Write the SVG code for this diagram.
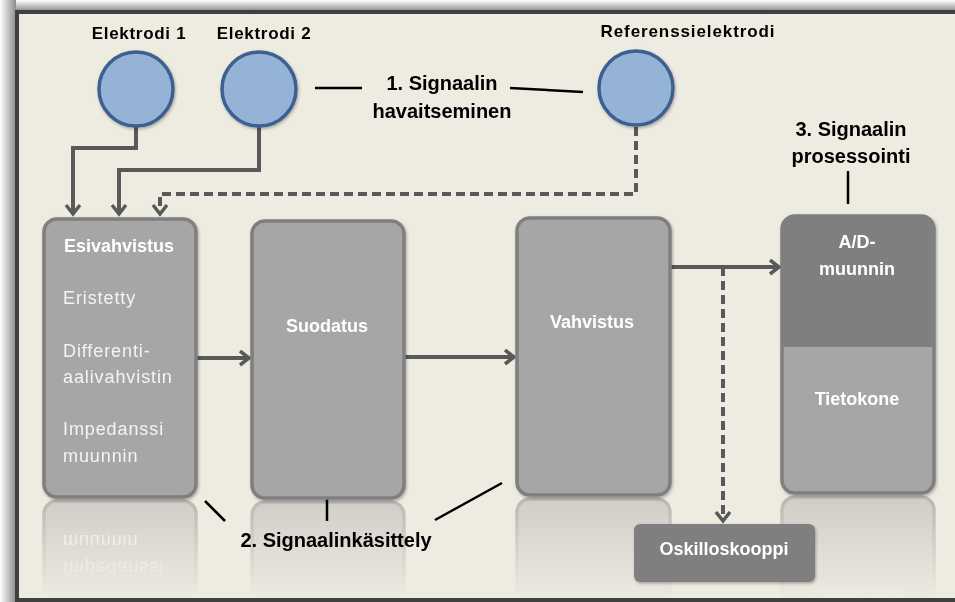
<svg xmlns="http://www.w3.org/2000/svg" width="955" height="602" viewBox="0 0 955 602">
  <defs>
    <style>
      .lbl { font-family: "Liberation Sans", Arial, sans-serif; font-weight: bold; fill: #000; }
      .btitle { font-family: "Liberation Sans", Arial, sans-serif; font-weight: bold; fill: #fff; font-size: 18px; text-anchor: middle; }
      .bitem { font-family: "Liberation Sans", Arial, sans-serif; fill: #f4f4f4; font-size: 18px; letter-spacing: 0.9px; }
      .box { fill: #a6a6a6; stroke: #7f7f7f; stroke-width: 3.5; }
      .elec { fill: #95b3d7; stroke: #3e6191; stroke-width: 3.5; }
      .wire { fill: none; stroke: #595959; stroke-width: 4; }
      .dash { stroke-dasharray: 9 5; }
      .lead { fill: none; stroke: #000; stroke-width: 2.5; }
      .refl { fill: url(#reflFill); stroke: url(#reflStroke); stroke-width: 3.5; }
      .rtext { font-family: "Liberation Sans", Arial, sans-serif; fill: #ffffff; font-size: 18px; letter-spacing: 0.9px; }
    </style>
    <marker id="head" markerUnits="userSpaceOnUse" markerWidth="16" markerHeight="18" refX="12" refY="8" orient="auto" viewBox="0 0 16 18">
      <path d="M3,1 L12,8 L3,15" fill="none" stroke="#595959" stroke-width="3.5"/>
    </marker>
    <linearGradient id="topShade" x1="0" y1="0" x2="0" y2="1">
      <stop offset="0" stop-color="#ffffff"/>
      <stop offset="1" stop-color="#8c8c8c"/>
    </linearGradient>
    <linearGradient id="leftShade" x1="0" y1="0" x2="1" y2="0">
      <stop offset="0" stop-color="#ffffff"/>
      <stop offset="1" stop-color="#8c8c8c"/>
    </linearGradient>
    <linearGradient id="reflFill" gradientUnits="userSpaceOnUse" x1="0" y1="498" x2="0" y2="596">
      <stop offset="0" stop-color="#cfcdc6"/>
      <stop offset="1" stop-color="#eceae0"/>
    </linearGradient>
    <linearGradient id="reflStroke" gradientUnits="userSpaceOnUse" x1="0" y1="498" x2="0" y2="596">
      <stop offset="0" stop-color="#b9b8b2"/>
      <stop offset="1" stop-color="#eceae0"/>
    </linearGradient>
    <linearGradient id="fadeGrad" gradientUnits="userSpaceOnUse" x1="0" y1="520" x2="0" y2="598">
      <stop offset="0" stop-color="#ffffff" stop-opacity="0.75"/>
      <stop offset="1" stop-color="#ffffff" stop-opacity="0.05"/>
    </linearGradient>
    <mask id="fade" maskUnits="userSpaceOnUse" x="0" y="480" width="955" height="122">
      <rect x="0" y="480" width="955" height="122" fill="url(#fadeGrad)"/>
    </mask>
    <clipPath id="floor">
      <rect x="19" y="480" width="936" height="117"/>
    </clipPath>
    <filter id="soft" x="-10%" y="-10%" width="120%" height="120%">
      <feDropShadow dx="1" dy="1.5" stdDeviation="1.5" flood-color="#000" flood-opacity="0.3"/>
    </filter>
  </defs>

  <!-- page and frame -->
  <rect x="0" y="0" width="955" height="602" fill="#ffffff"/>
  <rect x="0" y="0" width="955" height="11" fill="url(#topShade)"/>
  <rect x="0" y="0" width="16" height="602" fill="url(#leftShade)"/>
  <rect x="17" y="12" width="1000" height="588" fill="#eeece1" stroke="#404040" stroke-width="4"/>

  <!-- reflections under the blocks -->
  <g id="reflections" clip-path="url(#floor)">
    <rect class="refl" x="44" y="501" width="152" height="278" rx="13"/>
    <rect class="refl" x="252" y="502" width="152" height="278" rx="13"/>
    <rect class="refl" x="517" y="499" width="153" height="278" rx="13"/>
    <rect class="refl" x="782" y="497" width="152" height="278" rx="13"/>
    <g mask="url(#fade)">
      <g transform="matrix(1,0,0,-1,0,997)">
        <text class="rtext"><tspan x="63" y="435">Impedanssi</tspan><tspan x="63" y="462">muunnin</tspan></text>
      </g>
      <text class="rtext" x="857" y="405" text-anchor="middle" font-weight="bold" transform="matrix(1,0,0,-1,0,992)" style="fill-opacity:0.6">Tietokone</text>
    </g>
  </g>

  <!-- connectors -->
  <g id="connectors">
    <polyline class="wire" points="136,127 136,148 73,148 73,214" marker-end="url(#head)"/>
    <polyline class="wire" points="259,127 259,170 119,170 119,214" marker-end="url(#head)"/>
    <polyline class="wire dash" points="636,127 636,194 160,194 160,214" marker-end="url(#head)"/>
    <line class="wire" x1="196" y1="358" x2="249" y2="358" marker-end="url(#head)"/>
    <line class="wire" x1="404" y1="357" x2="514" y2="357" marker-end="url(#head)"/>
    <line class="wire" x1="670" y1="267" x2="779" y2="267" marker-end="url(#head)"/>
    <line class="wire dash" x1="723" y1="267" x2="723" y2="521" marker-end="url(#head)"/>
    <!-- leader lines to stage labels -->
    <line class="lead" x1="315" y1="88" x2="362" y2="88"/>
    <line class="lead" x1="510" y1="88" x2="583" y2="92"/>
    <line class="lead" x1="848" y1="171" x2="848" y2="204"/>
    <line class="lead" x1="205" y1="501" x2="225" y2="521"/>
    <line class="lead" x1="327" y1="497" x2="327" y2="521"/>
    <line class="lead" x1="435" y1="520" x2="502" y2="483"/>
  </g>

  <!-- electrodes -->
  <g id="elektrodi1">
    <circle class="elec" cx="136" cy="89" r="37" filter="url(#soft)"/>
    <text class="lbl" x="139" y="39" font-size="17" text-anchor="middle" letter-spacing="0.7">Elektrodi 1</text>
  </g>
  <g id="elektrodi2">
    <circle class="elec" cx="259" cy="89" r="37" filter="url(#soft)"/>
    <text class="lbl" x="264" y="39" font-size="17" text-anchor="middle" letter-spacing="0.7">Elektrodi 2</text>
  </g>
  <g id="referenssielektrodi">
    <circle class="elec" cx="636" cy="88" r="37" filter="url(#soft)"/>
    <text class="lbl" x="688" y="37" font-size="17" text-anchor="middle" letter-spacing="0.9">Referenssielektrodi</text>
  </g>

  <!-- stage labels -->
  <g id="vaihe1">
    <text class="lbl" font-size="20" text-anchor="middle"><tspan x="442" y="90">1. Signaalin</tspan><tspan x="442" y="118">havaitseminen</tspan></text>
  </g>
  <g id="vaihe2">
    <text class="lbl" x="336" y="547" font-size="20" text-anchor="middle">2. Signaalinkäsittely</text>
  </g>
  <g id="vaihe3">
    <text class="lbl" font-size="20" text-anchor="middle"><tspan x="851" y="136">3. Signaalin</tspan><tspan x="851" y="163">prosessointi</tspan></text>
  </g>

  <!-- processing blocks -->
  <g id="esivahvistus">
    <rect class="box" x="44" y="219" width="152" height="278" rx="13" filter="url(#soft)"/>
    <text class="btitle" x="119" y="252">Esivahvistus</text>
    <text class="bitem"><tspan x="63" y="304">Eristetty</tspan><tspan x="63" y="357">Differenti-</tspan><tspan x="63" y="383">aalivahvistin</tspan><tspan x="63" y="435">Impedanssi</tspan><tspan x="63" y="462">muunnin</tspan></text>
  </g>
  <g id="suodatus">
    <rect class="box" x="252" y="221" width="152" height="277" rx="13" filter="url(#soft)"/>
    <text class="btitle" x="327" y="332">Suodatus</text>
  </g>
  <g id="vahvistus">
    <rect class="box" x="517" y="218" width="153" height="277" rx="13" filter="url(#soft)"/>
    <text class="btitle" x="592" y="328">Vahvistus</text>
  </g>
  <g id="ad-tietokone">
    <rect class="box" x="782" y="216" width="152" height="277" rx="13" filter="url(#soft)"/>
    <path d="M782,347 L782,229 Q782,216 795,216 L921,216 Q934,216 934,229 L934,347 Z" fill="#7f7f7f"/>
    <text class="btitle"><tspan x="857" y="248">A/D-</tspan><tspan x="857" y="275">muunnin</tspan></text>
    <text class="btitle" x="857" y="405">Tietokone</text>
  </g>
  <g id="oskilloskooppi">
    <rect x="634" y="524" width="181" height="58" rx="6" fill="#7f7f7f" filter="url(#soft)"/>
    <text class="btitle" x="724" y="555">Oskilloskooppi</text>
  </g>
</svg>
